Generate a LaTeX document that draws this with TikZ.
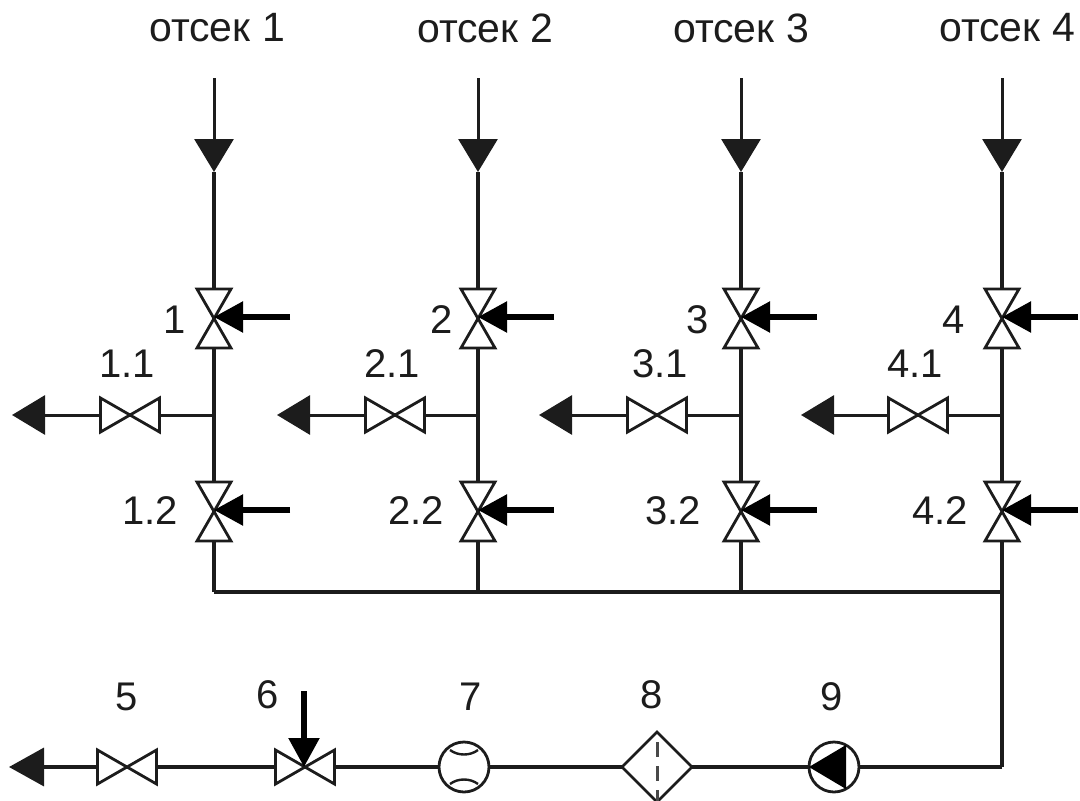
\documentclass[tikz,border=0pt]{standalone}
\usepackage{fontspec}
\setmainfont{Liberation Sans}
\usetikzlibrary{arrows.meta,shapes.geometric,calc}
\definecolor{ink}{HTML}{1C1C1C}
\tikzset{
  every node/.style={inner sep=0pt,outer sep=0pt,text=ink},
  lbl/.style={font=\fontsize{40}{40}\selectfont,anchor=center},
  ttl/.style={font=\fontsize{41}{41}\selectfont,anchor=center},
  pipe/.style={draw=ink,line width=3.6pt},
  thinpipe/.style={draw=ink,line width=3pt},
  sym/.style={draw=ink,line width=2.8pt,line join=miter},
  valveV/.style={rectangle,minimum width=34pt,minimum height=59pt},
  valveH/.style={rectangle,minimum width=59pt,minimum height=34pt},
  flow/.style={thinpipe,-{Triangle[length=33pt,width=39pt,color=ink]}},
  act/.style={draw=black,line width=5.5pt,-{Triangle[length=29pt,width=30pt,color=black]}},
  meter/.style={circle,draw=ink,line width=2.8pt,minimum size=50pt},
  filter/.style={diamond,draw=ink,line width=2.8pt,minimum width=70pt,minimum height=70pt},
}
\newcommand\mkV[2]{\node[valveV] (#1) at (#2) {};
  \draw[sym] (#1.north west)--(#1.north east)--(#1.south west)--(#1.south east)--cycle;}
\newcommand\mkH[2]{\node[valveH] (#1) at (#2) {};
  \draw[sym] (#1.north west)--(#1.south east)--(#1.north east)--(#1.south west)--cycle;}
\begin{document}
\begin{tikzpicture}[x=1pt,y=-1pt]
\useasboundingbox (0,0) rectangle (1080,801);
% titles
\node[ttl] (t1) at (217,28) {отсек 1};
\node[ttl] (t2) at (485,28) {отсек 2};
\node[ttl] (t3) at (741,28) {отсек 3};
\node[ttl] (t4) at (1007,28) {отсек 4};
% four compartments
\foreach \i/\x/\bv/\tip/\la/\lb/\lc in {1/214/130/12/175/127/150,2/478/395/277/442/392/416,3/741/657/539/698/660/673,4/1002/918/801/954/915/940}{
  \coordinate (in\i) at (\x,78);
  \coordinate (bar\i) at (\x,172);
  \coordinate (j\i) at (\x,415);
  \coordinate (h\i) at (\x,592);
  \coordinate (e\i) at (\tip,415);
  \coordinate (aA\i) at (\x+76,317);
  \coordinate (aB\i) at (\x+76,510);
  \coordinate (tA\i) at (\x,317);
  \coordinate (tB\i) at (\x,510);
  \mkV{va\i}{\x,318.5}
  \mkV{vb\i}{\x,511.5}
  \mkH{vc\i}{\bv,415}
  \draw[flow] (in\i) -- (bar\i);
  \draw[pipe] (bar\i) -- (va\i.north);
  \draw[pipe] (va\i.south) -- (vb\i.north);
  \draw[pipe] (vb\i.south) -- (h\i);
  \draw[thinpipe] (j\i) -- (vc\i.east);
  \draw[flow] (vc\i.west) -- (e\i);
  \draw[act] (aA\i) -- (tA\i);
  \draw[act] (aB\i) -- (tB\i);
  \node[lbl] (la\i) at (\la,320) {\i};
  \node[lbl] (lb\i) at (\lb,364) {\i.1};
  \node[lbl] (lc\i) at (\lc,511) {\i.2};
}
% header
\coordinate (corner) at (1002,767);
\draw[pipe] (h1) -- (h4) -- (corner);
% bottom line
\coordinate (out) at (9,767);
\mkH{v5}{127,767}
\mkH{v6}{305,767}
\node[meter] (m7) at (464,767) {};
\draw[sym,line width=2.4pt] (450,750) .. controls (458,756) and (470,756) .. (478,750);
\draw[sym,line width=2.4pt] (450,784) .. controls (458,778) and (470,778) .. (478,784);
\node[filter] (f8) at (657,767) {};
\draw[draw=ink!80,line width=3pt,dash pattern=on 15pt off 9pt] ($(f8.north)+(0,10)$) -- (f8.south);
\node[meter] (p9) at (834,767) {};
\fill[black] (p9.west) -- (846,745) -- (846,789) -- cycle;
\draw[pipe] (corner) -- (p9.east);
\draw[pipe] (p9.west) -- (f8.east);
\draw[pipe] (f8.west) -- (m7.east);
\draw[pipe] (m7.west) -- (v6.east);
\draw[pipe] (v6.west) -- (v5.east);
\draw[pipe,-{Triangle[length=35pt,width=38pt,color=ink]}] (v5.west) -- (out);
\coordinate (a6) at (304,691);
\coordinate (t6) at (304,767);
\draw[act] (a6) -- (t6);
% labels
\node[lbl] (l5) at (127,697) {5};
\node[lbl] (l6) at (268,695) {6};
\node[lbl] (l7) at (471,697) {7};
\node[lbl] (l8) at (652,695) {8};
\node[lbl] (l9) at (832,697) {9};
\end{tikzpicture}
\end{document}
